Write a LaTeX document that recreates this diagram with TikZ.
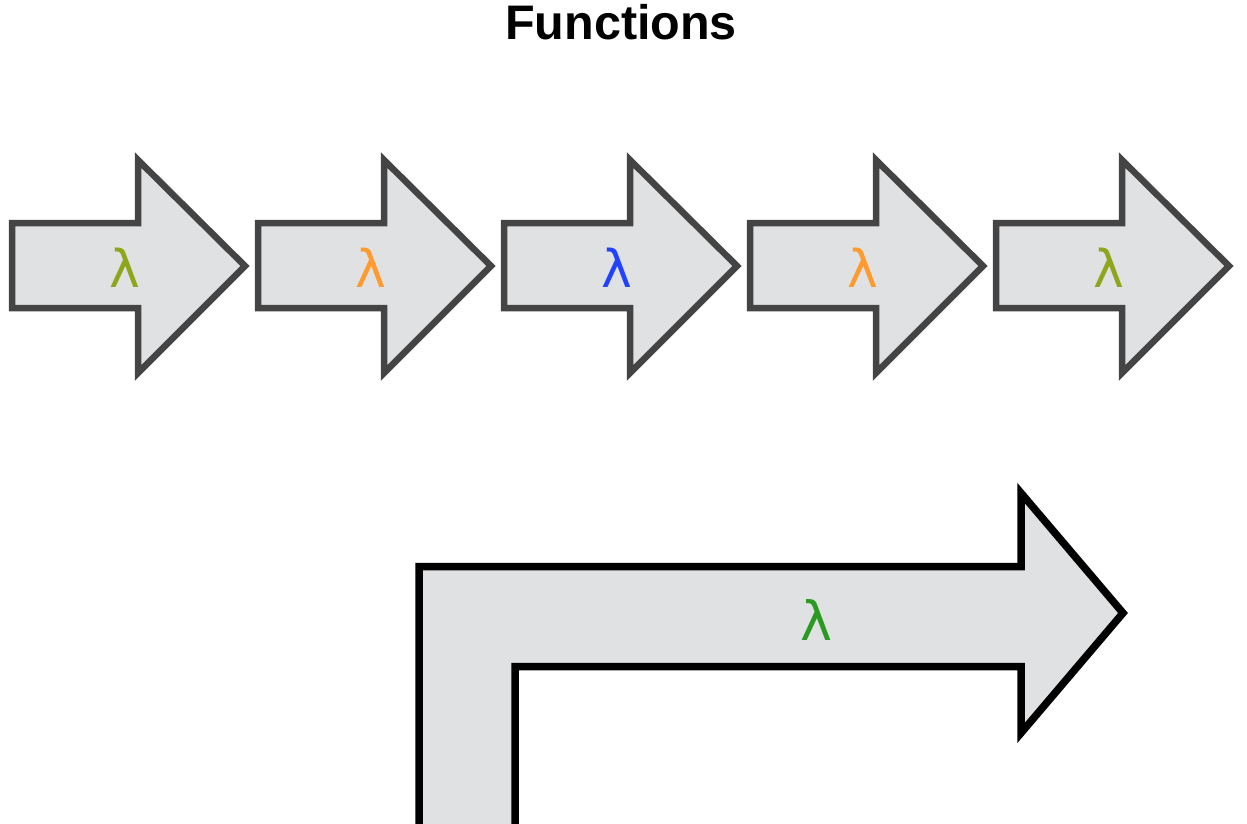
\documentclass[tikz,border=0pt]{standalone}
\usepackage{fontspec}
\setmainfont{Liberation Sans}
\newfontfamily\lamfont{DejaVu Sans}
\definecolor{arrowfill}{HTML}{E0E1E2}
\definecolor{arrowline}{HTML}{444444}
\definecolor{lamolive}{HTML}{8FA51C}
\definecolor{lamorange}{HTML}{FF9A2E}
\definecolor{lamblue}{HTML}{2242FF}
\definecolor{lamgreen}{HTML}{2A9A22}
\begin{document}
\begin{tikzpicture}[x=1pt,y=-1pt,
  smallarrow/.style={fill=arrowfill,draw=arrowline,line width=6.5pt,miter limit=10},
  bigarrow/.style={fill=arrowfill,draw=black,line width=7.5pt,miter limit=10},
  lam/.style={font=\lamfont\fontsize{52}{56}\selectfont,inner sep=0pt}]
\useasboundingbox (0,0) rectangle (1247,823);
\node[font=\bfseries\fontsize{48.5}{52}\selectfont,inner sep=0pt] (title) at (621,22) {Functions};
\foreach \i/\x/\c in {1/12/lamolive,2/258/lamorange,3/504/lamblue,4/750/lamorange,5/996/lamolive}{
  \draw[smallarrow,shift={(\x,0)}] (0,223)--(126,223)--(126,160)--(233,266)--(126,373)--(126,308)--(0,308)--cycle;
  \node[lam,text=\c] (l\i) at (\x+113,268) {λ};
}
\draw[bigarrow] (419,840)--(419,566.5)--(1021,566.5)--(1021,493)--(1123,613)--(1021,733)--(1021,666.7)--(515,666.7)--(515,840);
\node[lam,text=lamgreen,font=\lamfont\fontsize{54}{58}\selectfont] (lbig) at (816,620) {λ};
\end{tikzpicture}
\end{document}
